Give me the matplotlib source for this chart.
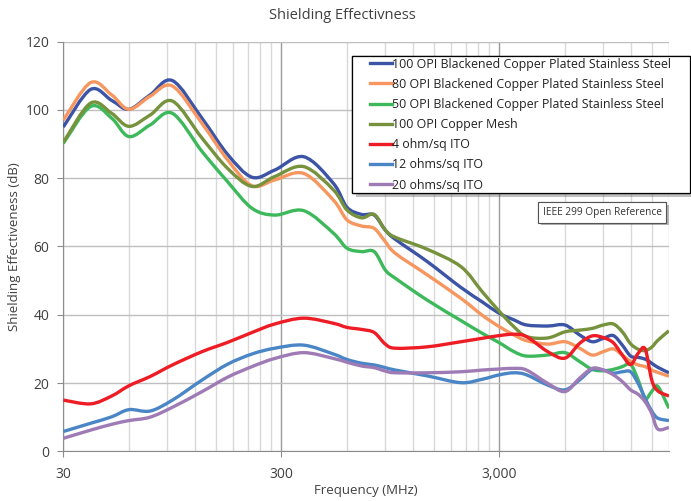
import numpy as np
import matplotlib
matplotlib.use("Agg")
import matplotlib.pyplot as plt
from matplotlib.path import Path
from matplotlib.patches import PathPatch, Rectangle
from matplotlib.lines import Line2D
from matplotlib import patheffects
from matplotlib.ticker import FixedLocator, FuncFormatter, NullFormatter

plt.rcParams['font.family'] = ['Open Sans', 'DejaVu Sans']

freq = [30, 40, 50, 60, 75, 95, 130, 170, 220, 280, 380, 520, 600, 700, 800, 900,
        1000, 1400, 2000, 2500, 3000, 3500, 4000, 5000, 6000, 7000, 8000, 9000,
        10000, 11000, 12000, 13000, 14000, 15000, 16000, 18000]

opi100_black = [95, 106, 102.8, 100.2, 104.4, 108.6, 97.5, 87, 80.3, 82.4, 86.3, 78.5,
                71.5, 69.4, 69.2, 64.8, 62.1, 55.6, 48, 43.8, 40.4, 38.5, 37, 36.7,
                37, 34.1, 32.1, 33.1, 33.9, 31.1, 27.9, 27.5, 27, 25.8, 24.6, 23]
opi80_black = [97, 108, 104.4, 100.2, 104, 107, 96, 85.4, 77.8, 79.5, 81.4, 73.6,
               67.8, 66, 65.3, 61.4, 58, 51.7, 44.8, 39.9, 36.5, 34.1, 32.4, 31.4,
               32.1, 30.2, 28.2, 29.2, 30, 28.2, 26.3, 25.3, 24.8, 23.8, 23.1, 22]
opi50_black = [90.2, 101, 97.6, 92.2, 95.6, 99, 87.8, 79, 71.2, 69.2, 70.5, 63.9,
               59.5, 58.5, 58.5, 53.1, 50.7, 44.3, 38.3, 34.6, 31.8, 29.2, 27.9, 28.2,
               28.9, 26.3, 24, 23.6, 24, 24.8, 25.5, 20.9, 15.5, 17.5, 19, 12.6]
opi100_copper = [90.5, 102, 99, 95.2, 98.5, 102.6, 91.7, 82.9, 77.6, 80.5, 83.4, 76.6,
                 70.7, 68.4, 69.4, 64.8, 62.7, 59.2, 54.1, 46.8, 41, 36.5, 33.6, 33.2,
                 35, 35.5, 36, 37, 37.3, 35, 31.5, 29.9, 29.5, 30.5, 32.5, 35.3]
ito4 = [15, 13.9, 16.2, 19.2, 21.9, 25.3, 29.2, 31.9, 34.8, 37.3, 39, 37.5,
        36.3, 35.7, 34.8, 31.4, 30.2, 30.6, 32.1, 33.1, 33.9, 34.3, 33.6, 29.2,
        27.3, 31.6, 33.8, 33.3, 31.8, 28.2, 25.4, 28.7, 30, 20.9, 17.7, 16.2]
ito12 = [5.8, 8.2, 10.1, 12.2, 11.8, 15, 20.9, 25.5, 28.5, 30.2, 31.1, 28.5,
         26.9, 25.8, 25.3, 24.5, 23.8, 22.1, 20.1, 21.1, 22.4, 23, 22.4, 19.4,
         18, 20.9, 24, 23.8, 22.9, 23.3, 23.3, 19.9, 15.5, 11.8, 9.7, 9]
ito20 = [3.8, 6.2, 7.9, 9, 10, 12.9, 17.5, 21.7, 24.8, 27.2, 28.9, 27.2,
         26.1, 25, 24.5, 23.5, 23, 23, 23.3, 23.8, 24.1, 24.3, 23.8, 19.9,
         17.5, 21.4, 24.3, 23.8, 22.4, 20.4, 18, 16.7, 14.5, 11.1, 6.5, 7]

labels = ["100 OPI Blackened Copper Plated Stainless Steel",
          "80 OPI Blackened Copper Plated Stainless Steel",
          "50 OPI Blackened Copper Plated Stainless Steel",
          "100 OPI Copper Mesh",
          "4 ohm/sq ITO",
          "12 ohms/sq ITO",
          "20 ohms/sq ITO"]
series = [opi100_black, opi80_black, opi50_black, opi100_copper, ito4, ito12, ito20]
colors = ["#3B54A5", "#F7975F", "#3DB95B", "#76923C", "#EE1C25", "#4A86C6", "#9F7BB6"]


def smooth_path(x, y):
    # excel style smoothed line: bezier through the points (done in log x)
    lx = np.log10(x)
    y = np.asarray(y, dtype=float)
    n = len(lx)
    verts = [(x[0], y[0])]
    codes = [Path.MOVETO]
    for i in range(n - 1):
        a = max(i - 1, 0)
        d = min(i + 2, n - 1)
        c1 = (10 ** (lx[i] + (lx[i + 1] - lx[a]) / 6), y[i] + (y[i + 1] - y[a]) / 6)
        c2 = (10 ** (lx[i + 1] - (lx[d] - lx[i]) / 6), y[i + 1] - (y[d] - y[i]) / 6)
        verts += [c1, c2, (x[i + 1], y[i + 1])]
        codes += [Path.CURVE4] * 3
    return Path(verts, codes)


fig = plt.figure(figsize=(6.91, 5.01), dpi=100)
ax = fig.add_axes([0.0916, 0.0992, 0.8765, 0.8176])
ax.set_xscale('log')
ax.set_xlim(30, 18000)
ax.set_ylim(0, 120)

handles = []
for vals, col, lab in zip(series, colors, labels):
    ax.add_patch(PathPatch(smooth_path(freq, vals), fill=False, edgecolor=col,
                           lw=2.4, joinstyle='round', zorder=3))
    handles.append(Line2D([], [], color=col, lw=2.4, label=lab))

txt_col = '#404040'
ax.xaxis.set_major_locator(FixedLocator([30, 300, 3000]))
ax.xaxis.set_major_formatter(FuncFormatter(lambda v, p: f"{v:,.0f}"))
minors = [m * 10 ** n for n in range(3) for m in range(60, 300, 30)]
ax.xaxis.set_minor_locator(FixedLocator([m for m in minors if m <= 18000]))
ax.xaxis.set_minor_formatter(NullFormatter())
ax.set_yticks(range(0, 121, 20))

ax.grid(True, which='major', axis='y', color='#BFBFBF', lw=1)
ax.grid(True, which='major', axis='x', color='#9A9A9A', lw=1)
ax.grid(True, which='minor', axis='x', color='#D9D9D9', lw=1)
ax.set_axisbelow(True)
for s in ['top', 'right']:
    ax.spines[s].set_visible(False)
for s in ['left', 'bottom']:
    ax.spines[s].set_color('#8C8C8C')
ax.tick_params(axis='both', which='major', length=4, color='#8C8C8C',
               labelsize=10, labelcolor=txt_col)
ax.tick_params(axis='x', which='minor', length=0)
ax.tick_params(axis='x', pad=7)
ax.tick_params(axis='y', pad=6)

fig.suptitle("Shielding Effectivness", x=0.496, y=0.985, fontsize=10.5, color=txt_col)
ax.set_xlabel("Frequency (MHz)", fontsize=9.5, color=txt_col, labelpad=2)
ax.set_ylabel("Shielding Effectiveness (dB)", fontsize=9.5, color=txt_col, labelpad=3)

# legend box drawn by hand: wider left margin than matplotlib gives
box = Rectangle((0.5094, 0.6148), 0.4892, 0.2734, transform=fig.transFigure,
                fc='white', ec='black', lw=0.9, clip_on=False, zorder=4)
box.set_path_effects([patheffects.withSimplePatchShadow(offset=(3, -3), alpha=0.35),
                      patheffects.Normal()])
ax.add_patch(box)

leg = ax.legend(handles=handles, loc='upper left', bbox_to_anchor=(370 / 691, 0.8852),
                bbox_transform=fig.transFigure, fontsize=8.9, frameon=False,
                handlelength=1.75, handletextpad=0.05,
                labelspacing=0.58, borderpad=0, borderaxespad=0)
leg.set_zorder(5)
for t in leg.get_texts():
    t.set_color('#222222')

note = ax.text(0.988, 0.583, "IEEE 299 Open Reference", transform=ax.transAxes,
               ha='right', va='center', fontsize=7.3, color='#333333', zorder=5,
               bbox=dict(boxstyle='square,pad=0.45', fc='white', ec='#555555', lw=0.8))
note.get_bbox_patch().set_path_effects([patheffects.withSimplePatchShadow(offset=(2, -2), alpha=0.4),
                                         patheffects.Normal()])

fig.savefig("out.png", dpi=100)
